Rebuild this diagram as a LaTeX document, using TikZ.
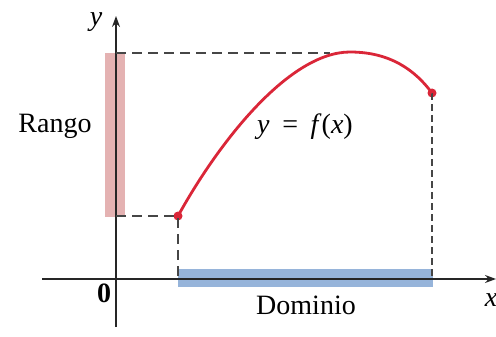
\documentclass[tikz,border=0pt]{standalone}
\usepackage{fontspec}
\setmainfont{Liberation Serif}
\usepackage{xcolor}
\usetikzlibrary{arrows.meta,positioning}
\definecolor{curvered}{RGB}{218,38,56}
\definecolor{rangefill}{RGB}{228,178,178}
\definecolor{domfill}{RGB}{150,180,218}
\definecolor{guidegray}{RGB}{70,70,70}

\begin{document}
\begin{tikzpicture}[x=1pt,y=-1pt,
  lbl/.style={font=\fontsize{28}{30}\selectfont,inner sep=0pt},
  axis/.style={-{Stealth[length=11pt,width=8pt]},line width=1.2pt,black!85},
  guide/.style={guidegray,line width=1.5pt,dash pattern=on 10pt off 6pt},
  graph/.style={curvered,line width=2.8pt},
  dot/.style={circle,fill=curvered,inner sep=0pt,minimum size=9pt}]
\useasboundingbox (0,0) rectangle (496,337);
% range and domain bars
\fill[rangefill] (105,53) rectangle (125,217);
\fill[domfill] (178,269) rectangle (433,287);
% axes
\coordinate (xl) at (42,279); \coordinate (xr) at (496,279);
\coordinate (yb) at (116,327); \coordinate (yt) at (116,16);
\draw[axis] (xl) -- (xr);
\draw[axis] (yb) -- (yt);
% end points and top
\node[dot] (p) at (178,216) {};
\node[dot] (q) at (432,93) {};
\coordinate (top) at (350,52);
\coordinate (ya) at (116,216); \coordinate (yc) at (116,53);
\coordinate (xa) at (178,279); \coordinate (xb) at (432,279);
\draw[guide] (ya) -- (p.center) -- (xa);
\draw[guide] (yc) -- (330,53);
\draw[guide,dash pattern=on 7pt off 4pt] (q.center) -- (xb);
% the graph
\draw[graph] (p.center) .. controls (220,140) and (290,52) .. (top)
  .. controls (390,52) and (415,70) .. (q.center);
% labels
\node[lbl] (ylab) at (96,22) {\textit{y}};
\node[lbl] (xlab) at (491,300) {\textit{x}};
\node[lbl] (orig) at (104,293) {\textbf{0}};
\node[lbl] (rango) at (55,126) {Rango};
\node[lbl] (dom) at (306,305) {Dominio};
\node[lbl] (fx) at (305,127) {\textit{y}\hspace{0.45em}=\hspace{0.45em}\textit{f}(\textit{x})};
\end{tikzpicture}
\end{document}
